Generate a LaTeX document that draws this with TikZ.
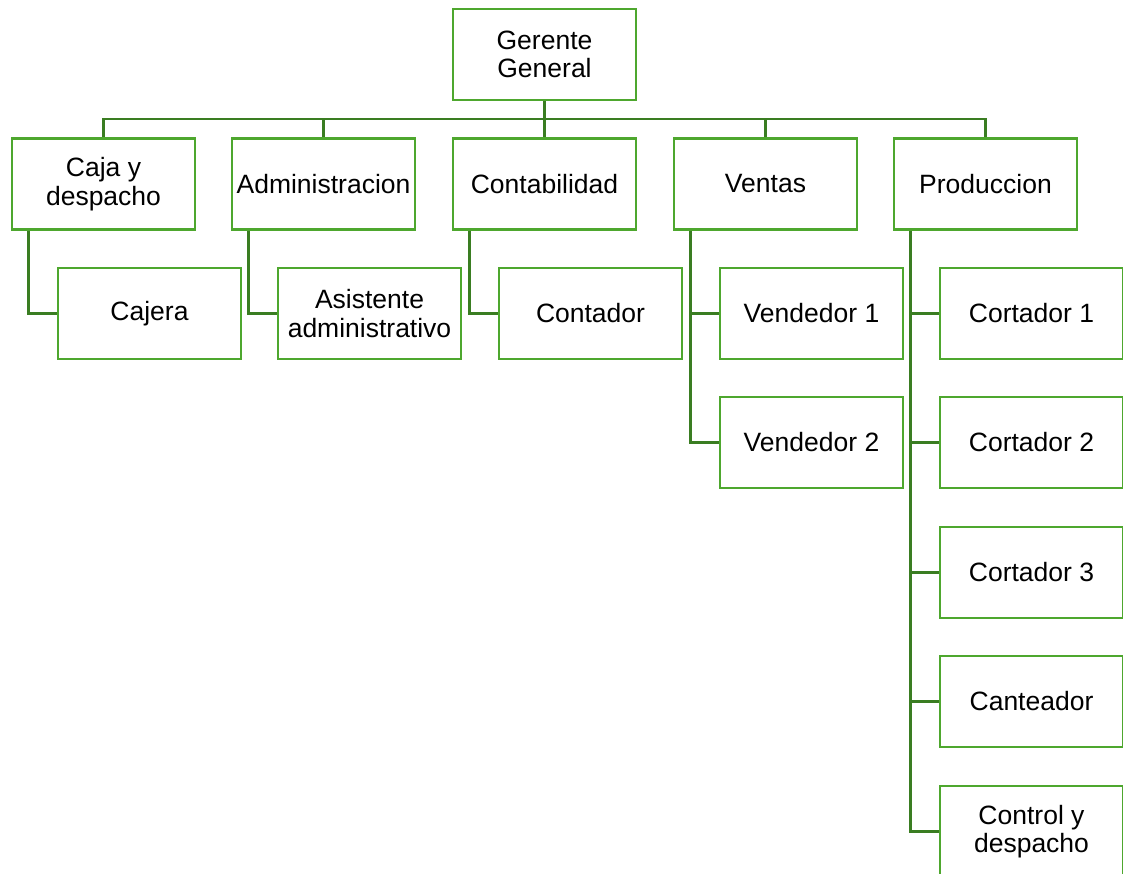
\documentclass[tikz,border=0pt]{standalone}
\usepackage{fontspec}
\setmainfont{Liberation Sans}
\definecolor{boxgreen}{HTML}{4EA72E}
\definecolor{linegreen}{HTML}{3A7D22}
\begin{document}
\begin{tikzpicture}[x=1pt,y=-1pt,
  box/.style={draw=boxgreen, line width=2.6pt, fill=white, minimum width=183pt, minimum height=91pt, inner sep=2pt, align=center, font=\fontsize{26.5}{28.5}\selectfont, text=black},
  conn/.style={draw=linegreen, line width=2.6pt}]
\useasboundingbox (0,0) rectangle (1123,874);
\clip (0,0) rectangle (1123,874);
% top
\node[box] (gg) at (544.5,54.5) {Gerente\\General};
% level 1
\node[box] (caja) at (103.5,184) {Caja y\\despacho};
\node[box] (adm) at (323.5,184) {Administracion};
\node[box] (cont) at (544.5,184) {Contabilidad};
\node[box] (ven) at (765.5,184) {Ventas};
\node[box] (prod) at (985.5,184) {Produccion};
% level 2
\node[box] (cajera) at (149.5,313.5) {Cajera\vphantom{y}};
\node[box] (asis) at (369.5,313.5) {Asistente\\administrativo};
\node[box] (conta) at (590.5,313.5) {Contador};
\node[box] (v1) at (811.5,313.5) {Vendedor 1};
\node[box] (v2) at (811.5,442.5) {Vendedor 2};
\node[box] (c1) at (1031.5,313.5) {Cortador 1};
\node[box] (c2) at (1031.5,442.5) {Cortador 2};
\node[box] (c3) at (1031.5,572.5) {Cortador 3};
\node[box] (cant) at (1031.5,701.5) {Canteador};
\node[box] (ctrl) at (1031.5,831.5) {Control y\\despacho};
% connectors top
\coordinate (bar) at (544.5,119);
\draw[conn] (caja.north) |- (bar) -| (prod.north);
\draw[conn] (gg.south) -- (cont.north);
\draw[conn] (adm.north) -- (adm.north |- bar);
\draw[conn] (ven.north) -- (ven.north |- bar);
% children
\draw[conn] ([xshift=18pt]caja.south west) |- (cajera.west);
\draw[conn] ([xshift=18pt]adm.south west) |- (asis.west);
\draw[conn] ([xshift=18pt]cont.south west) |- (conta.west);
\draw[conn] ([xshift=18pt]ven.south west) |- (v2.west);
\coordinate (vx) at ([xshift=18pt]ven.south west);
\draw[conn] (v1.west) -- (v1.west -| vx);
\draw[conn] ([xshift=18pt]prod.south west) |- (ctrl.west);
\coordinate (px) at ([xshift=18pt]prod.south west);
\draw[conn] (c1.west) -- (c1.west -| px);
\draw[conn] (c2.west) -- (c2.west -| px);
\draw[conn] (c3.west) -- (c3.west -| px);
\draw[conn] (cant.west) -- (cant.west -| px);
\end{tikzpicture}
\end{document}
